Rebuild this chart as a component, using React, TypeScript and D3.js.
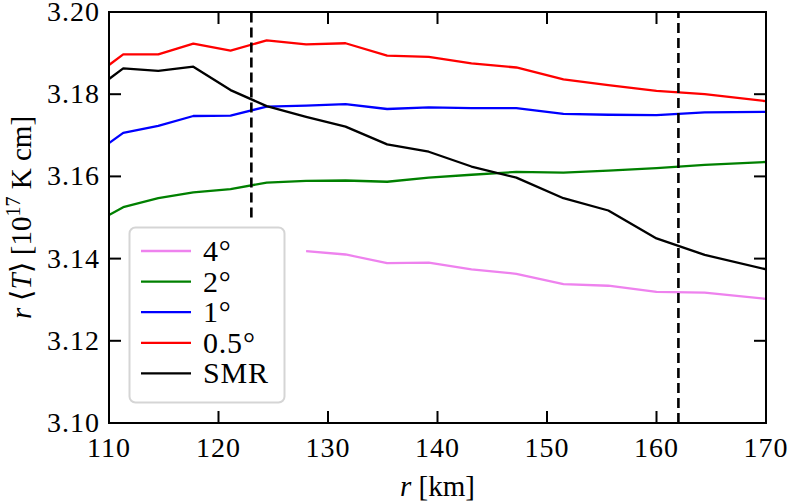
import React from 'react';
import * as d3 from 'd3';

// radius grid (km) shared by all runs
const rKm = [110, 111.3, 114.5, 117.7, 121.1, 124.4, 128.0, 131.6, 135.4, 139.2, 143.1, 147.2, 151.5, 155.6, 160.0, 164.4, 170];

const smr = [3.1837, 3.1863, 3.1857, 3.1867, 3.1810, 3.1771, 3.1745, 3.1721, 3.1678, 3.1660, 3.1624, 3.1597, 3.1547, 3.1517, 3.1449, 3.1409, 3.1374];
const res05 = [3.1871, 3.1897, 3.1897, 3.1923, 3.1906, 3.1931, 3.1921, 3.1924, 3.1894, 3.1891, 3.1875, 3.1865, 3.1836, 3.1822, 3.1808, 3.1800, 3.1783];
const res1 = [3.1681, 3.1706, 3.1723, 3.1747, 3.1748, 3.1770, 3.1772, 3.1776, 3.1764, 3.1768, 3.1766, 3.1766, 3.1752, 3.1750, 3.1749, 3.1756, 3.1757];
const res2 = [3.1506, 3.1525, 3.1547, 3.1561, 3.1569, 3.1585, 3.1589, 3.1590, 3.1587, 3.1597, 3.1604, 3.1611, 3.1609, 3.1614, 3.1620, 3.1628, 3.1635];
const res4 = [null, null, null, null, null, null, 3.1418, 3.1410, 3.1389, 3.1390, 3.1374, 3.1363, 3.1338, 3.1334, 3.1319, 3.1317, 3.1302];

const xTicks = [110, 120, 130, 140, 150, 160, 170];
const yTicks = [3.10, 3.12, 3.14, 3.16, 3.18, 3.20];
const vLines = [
  { r: 123, from: 3.15 },
  { r: 162, from: 3.10 },
];

const series = [
  { label: '4°', color: 'violet', values: res4 },
  { label: '2°', color: 'green', values: res2 },
  { label: '1°', color: 'blue', values: res1 },
  { label: '0.5°', color: 'red', values: res05 },
  { label: 'SMR', color: 'black', values: smr },
];

const W = 789;
const H = 504;
const margin = { left: 109, right: 23, top: 12, bottom: 81 };

const css = `
#chart text { font-family: 'Liberation Serif' !important; fill: #000; }
#chart text.tk { font-size: 28px !important; letter-spacing: 1px; }
#chart text.lg { font-size: 30px !important; letter-spacing: 0.8px; }
#chart text.ax { font-size: 29px !important; }
#chart tspan.sup { font-size: 20px !important; }
#chart tspan.it { font-style: italic; }
`;

export default function App() {
  const x = d3.scaleLinear().domain([110, 170]).range([margin.left, W - margin.right]);
  const y = d3.scaleLinear().domain([3.10, 3.20]).range([H - margin.bottom, margin.top]);

  const line = d3.line<number | null>()
    .defined(d => d != null)
    .x((_, i) => x(rKm[i]))
    .y(d => y(d as number));

  const x0 = x.range()[0], x1 = x.range()[1];
  const y0 = y.range()[0], y1 = y.range()[1];
  const tick = 12;

  // legend placement
  const lg = { x: 129.5, y: 227.5, w: 155, h: 175, row: 30.6, first: 251 };

  return (
    <svg id="chart" width={W} height={H} style={{ position: 'absolute', left: 0, top: 0 }}>
      <style>{css}</style>
      <rect width={W} height={H} fill="white" />
      <defs>
        <clipPath id="plot">
          <rect x={x0} y={y1} width={x1 - x0} height={y0 - y1} />
        </clipPath>
      </defs>

      <g clipPath="url(#plot)">
        {series.map(s => (
          <path key={s.label} d={line(s.values) || ''} fill="none" stroke={s.color} strokeWidth={2.3} strokeLinejoin="round" />
        ))}
        {vLines.map(v => (
          <line key={v.r} x1={x(v.r)} x2={x(v.r)} y1={y(v.from)} y2={y1} stroke="black" strokeWidth={2.6} strokeDasharray="10 5" />
        ))}
      </g>

      {/* legend */}
      <rect x={lg.x} y={lg.y} width={lg.w} height={lg.h} rx={6} fill="white" fillOpacity={0.8} stroke="#d5d5d5" strokeWidth={2} />
      {series.map((s, i) => {
        const cy = lg.first + i * lg.row;
        return (
          <g key={s.label}>
            <line x1={141} x2={191} y1={cy} y2={cy} stroke={s.color} strokeWidth={2.3} />
            <text className="lg" x={203} y={cy + 10}>{s.label}</text>
          </g>
        );
      })}

      {/* ticks, inward on all sides */}
      {xTicks.map(t => (
        <g key={t}>
          <line x1={x(t)} x2={x(t)} y1={y0} y2={y0 - tick} stroke="black" strokeWidth={2} />
          <line x1={x(t)} x2={x(t)} y1={y1} y2={y1 + tick} stroke="black" strokeWidth={2} />
          <text className="tk" x={x(t)} y={457} textAnchor="middle">{t}</text>
        </g>
      ))}
      {yTicks.map(t => (
        <g key={t}>
          <line x1={x0} x2={x0 + tick} y1={y(t)} y2={y(t)} stroke="black" strokeWidth={2} />
          <line x1={x1} x2={x1 - tick} y1={y(t)} y2={y(t)} stroke="black" strokeWidth={2} />
          <text className="tk" x={100} y={y(t) + 9} textAnchor="end">{t.toFixed(2)}</text>
        </g>
      ))}

      <rect x={x0} y={y1} width={x1 - x0} height={y0 - y1} fill="none" stroke="black" strokeWidth={2} />

      {/* axis labels */}
      <text className="ax" x={(x0 + x1) / 2} y={496} textAnchor="middle">
        <tspan className="it">r</tspan> [km]
      </text>
      <text className="ax" transform={`translate(31, ${(y0 + y1) / 2}) rotate(-90)`} textAnchor="middle">
        <tspan className="it">r</tspan> ⟨<tspan className="it">T</tspan>⟩ [10<tspan className="sup" dy={-11}>17</tspan><tspan dy={11}> K cm]</tspan>
      </text>
    </svg>
  );
}
